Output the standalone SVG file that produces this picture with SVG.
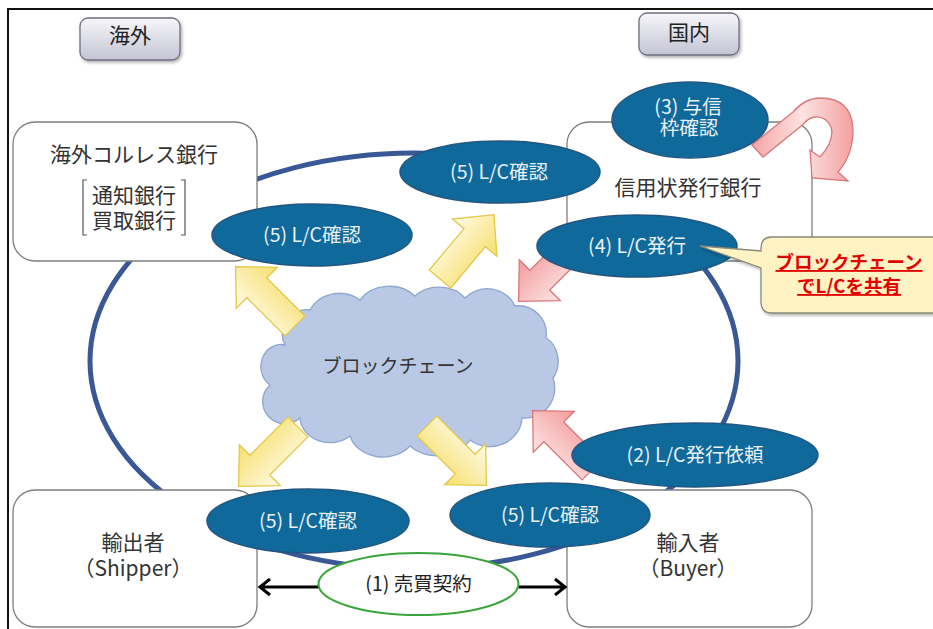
<svg xmlns="http://www.w3.org/2000/svg" width="933" height="629" viewBox="0 0 933 629">
<defs>
<style>
text{font-family:"Noto Sans CJK JP","Noto Sans",sans-serif;}
.lbl{font-size:21px;fill:#333;text-anchor:middle;}
.box{fill:#fff;stroke:#7f7f7f;stroke-width:1.3;}
.tab{fill:url(#tabg);stroke:#6e6e80;stroke-width:1.3;filter:url(#sh);}
.tabt{font-size:21px;fill:#222;text-anchor:middle;}
.be{fill:#0f6a9b;stroke:#22557f;stroke-width:1.5;}
.bet{font-size:19.5px;fill:#e9f1f8;text-anchor:middle;}
.ya{fill:url(#yg);stroke:#e3c84a;stroke-width:1.3;}
.pa{fill:url(#pg);stroke:#d9787a;stroke-width:1.3;}
.ct{font-size:18.5px;font-weight:bold;fill:#e30000;text-anchor:middle;text-decoration:underline;}
</style>
<linearGradient id="tabg" x1="0" y1="0" x2="0" y2="1"><stop offset="0" stop-color="#f6f6fa"/><stop offset="1" stop-color="#c4c4d4"/></linearGradient>
<linearGradient id="yg" x1="0" y1="0" x2="0" y2="1"><stop offset="0" stop-color="#fffbe6"/><stop offset="1" stop-color="#f6df6e"/></linearGradient>
<linearGradient id="pg" x1="0" y1="0" x2="0" y2="1"><stop offset="0" stop-color="#fde6e6"/><stop offset="1" stop-color="#f39a9a"/></linearGradient>
<linearGradient id="pgu" x1="0" y1="0" x2="1" y2="0"><stop offset="0" stop-color="#f6a5a5"/><stop offset="0.5" stop-color="#fde2e2"/><stop offset="1" stop-color="#f4a0a0"/></linearGradient>
<filter id="sh" x="-10%" y="-10%" width="130%" height="140%"><feDropShadow dx="1.5" dy="2" stdDeviation="1.5" flood-color="#000" flood-opacity="0.3"/></filter>
<polygon id="arw" points="0,-14 54,-14 54,-29 84,0 54,29 54,14 0,14"/>
</defs>
<rect width="933" height="629" fill="#fff"/>
<path d="M8,629 V9 H933" fill="none" stroke="#111" stroke-width="2"/>

<g id="connectors">
<ellipse cx="414" cy="361" rx="324" ry="208" fill="none" stroke="#3b5896" stroke-width="5"/>
</g>

<g id="tab-kaigai"><rect class="tab" x="80" y="18" width="100" height="42" rx="8"/><text class="tabt" x="130" y="43">海外</text></g>
<g id="tab-kokunai"><rect class="tab" x="639" y="13" width="100" height="42" rx="8"/><text class="tabt" x="689" y="40">国内</text></g>

<g id="correspondent-bank">
<rect class="box" x="13" y="122" width="244" height="139" rx="22"/>
<text class="lbl" x="134" y="162">海外コルレス銀行</text>
<path d="M87,180 H83 V235 H87 M181,180 H185 V235 H181" fill="none" stroke="#555" stroke-width="1.2"/>
<text class="lbl" x="134" y="203">通知銀行</text>
<text class="lbl" x="134" y="228">買取銀行</text>
</g>
<g id="issuing-bank">
<rect class="box" x="567" y="122" width="245" height="139" rx="22"/>
<text class="lbl" x="688" y="195">信用状発行銀行</text>
</g>
<g id="shipper">
<rect class="box" x="13" y="490" width="244" height="137" rx="22"/>
<text class="lbl" x="133" y="550">輸出者</text>
<text class="lbl" x="133" y="576">（Shipper）</text>
</g>
<g id="buyer">
<rect class="box" x="567" y="490" width="245" height="137" rx="22"/>
<text class="lbl" x="688" y="550">輸入者</text>
<text class="lbl" x="688" y="576">（Buyer）</text>
</g>

<g id="blockchain">
<path d="M285,345 A24,24 0 0 1 310,310 A32,28 0 0 1 360,300 A34,28 0 0 1 415,296 A32,26 0 0 1 465,298 A30,28 0 0 1 515,306 A28,28 0 0 1 546,338 A22,26 0 0 1 553,378 A30,30 0 0 1 522,418 A32,30 0 0 1 470,440 A36,28 0 0 1 410,446 A34,28 0 0 1 350,436 A30,26 0 0 1 300,418 A22,22 0 0 1 270,385 A20,22 0 0 1 285,345 Z" fill="#b9c8e4" stroke="#8fa6cf" stroke-width="1.3"/>
<text x="398" y="373" style="font-size:19px;fill:#333;text-anchor:middle">ブロックチェーン</text>
</g>

<g id="arrows">
<use href="#arw" class="ya" transform="translate(295,326) rotate(-135)"/>
<use href="#arw" class="ya" transform="translate(440,279) rotate(-50)"/>
<use href="#arw" class="ya" transform="translate(298,427) rotate(135)"/>
<use href="#arw" class="ya" transform="translate(427,426) rotate(45)"/>
<use href="#arw" class="pa" transform="translate(578,242) rotate(135)"/>
<use href="#arw" class="pa" transform="translate(592,470) rotate(-135)"/>
<path d="M259,587 H566 M270,579 L260,587 L270,595 M555,579 L565,587 L555,595" fill="none" stroke="#000" stroke-width="3"/>
</g>

<g id="contract"><ellipse cx="418.5" cy="584" rx="100" ry="31" fill="#fff" stroke="#3aa53a" stroke-width="2"/><text x="418.5" y="591" style="font-size:19.5px;fill:#222;text-anchor:middle">(1) 売買契約</text></g>

<g id="credit-check"><ellipse class="be" cx="690" cy="120" rx="78" ry="38"/><text class="bet" x="688" y="114">(3) 与信</text><text class="bet" x="689" y="135">枠確認</text></g>
<g id="uturn"><path fill="url(#pgu)" stroke="#d9787a" stroke-width="1.3" d="M752,145 L793,112 Q805,98 820,98 Q852,98 853,130 Q853,155 838,172 L848,181 L812,178 L810,150 L820,157 Q835,140 831,127 Q826,116 815,117 Q808,118 803,124.5 L763,157 Z"/></g>

<g id="lc-confirm-1"><ellipse class="be" cx="312" cy="235" rx="100" ry="31"/><text class="bet" x="312" y="242">(5) L/C確認</text></g>
<g id="lc-confirm-2"><ellipse class="be" cx="500" cy="172" rx="100" ry="31"/><text class="bet" x="499" y="179">(5) L/C確認</text></g>
<g id="lc-issue"><ellipse class="be" cx="637" cy="246" rx="100" ry="31"/><text class="bet" x="637" y="253">(4) L/C発行</text></g>
<g id="lc-request"><ellipse class="be" cx="695" cy="455" rx="123" ry="32"/><text class="bet" x="695" y="462">(2) L/C発行依頼</text></g>
<g id="lc-confirm-3"><ellipse class="be" cx="308" cy="521" rx="101" ry="32"/><text class="bet" x="308" y="528">(5) L/C確認</text></g>
<g id="lc-confirm-4"><ellipse class="be" cx="550" cy="515" rx="100" ry="32"/><text class="bet" x="550" y="522">(5) L/C確認</text></g>

<g id="callout">
<path d="M772,237 H945 V313 H772 Q761,313 761,302 V268 L700,246 L761,251 V248 Q761,237 772,237 Z" fill="#fff3c4" stroke="#8a8a7a" stroke-width="1.3" filter="url(#sh)"/>
<text class="ct" x="849" y="269">ブロックチェーン</text>
<text class="ct" x="849" y="293">でL/Cを共有</text>
</g>
</svg>
